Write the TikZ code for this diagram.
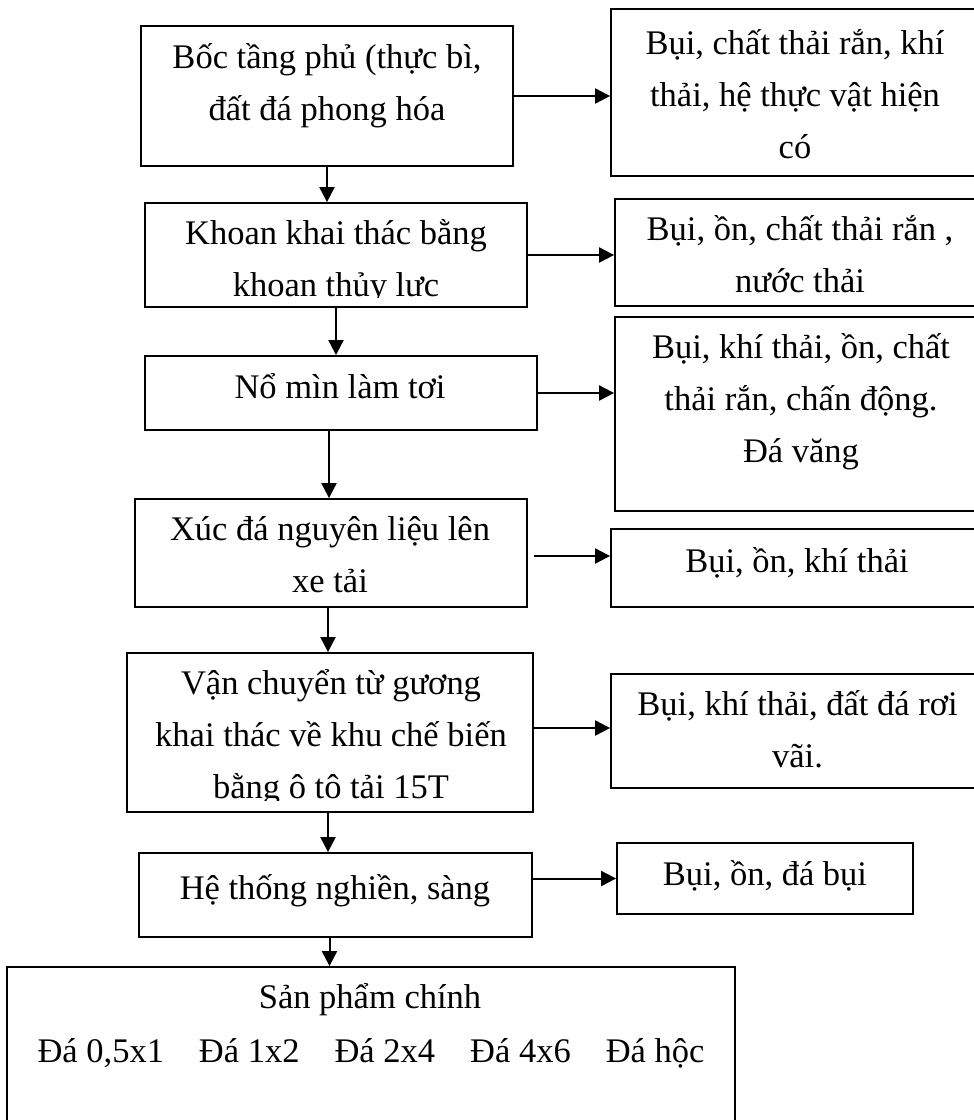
\documentclass[tikz,border=0pt]{standalone}
\usepackage{fontspec}
\setmainfont{Liberation Serif}
\usetikzlibrary{arrows.meta}
\tikzset{
  box/.style={draw=black, line width=1.8pt, fill=white, inner sep=0pt},
  txt/.style={inner sep=0pt, anchor=base, align=center, font=\fontsize{34.5}{52}\selectfont},
  arr/.style={line width=2pt, -{Triangle[length=15pt,width=15pt]}}
}
\begin{document}
\begin{tikzpicture}[x=1pt,y=-1pt]
\useasboundingbox (0,0) rectangle (974,1120);
\clip (0,0) rectangle (974,1120);
% process boxes
\node[box, minimum width=372pt, minimum height=140pt] (b1) at (327,96) {};
\node[box, minimum width=382pt, minimum height=104pt] (b2) at (336,255) {};
\node[box, minimum width=392pt, minimum height=74pt] (b3) at (341,393) {};
\node[box, minimum width=392pt, minimum height=108pt] (b4) at (331,553) {};
\node[box, minimum width=406pt, minimum height=159pt] (b5) at (330,732.5) {};
\node[box, minimum width=393pt, minimum height=84pt] (b6) at (335.5,895) {};
\node[box, minimum width=728pt, minimum height=163pt] (bp) at (371,1048.5) {};
% impact boxes
\node[box, minimum width=368pt, minimum height=167pt] (r1) at (795,92.5) {};
\node[box, minimum width=370pt, minimum height=107pt] (r2) at (800,252.5) {};
\node[box, minimum width=372pt, minimum height=194pt] (r3) at (801,414) {};
\node[box, minimum width=372pt, minimum height=78pt] (r4) at (797,568) {};
\node[box, minimum width=373pt, minimum height=114pt] (r5) at (797.5,731) {};
\node[box, minimum width=296pt, minimum height=71pt] (r6) at (765,878.5) {};
% texts (anchor base = baseline of the last line)
\node[txt] (t1) at (327,120) {Bốc tầng phủ (thực bì,\\đất đá phong hóa};
\begin{scope}
\clip (b2.north west) rectangle ([yshift=10pt]b2.south east);
\node[txt] (t2) at (336,296) {Khoan khai thác bằng\\khoan thủy lực};
\end{scope}
\node[txt] (t3) at (340,398) {Nổ mìn làm tơi};
\node[txt] (t4) at (330,592) {Xúc đá nguyên liệu lên\\xe tải};
\begin{scope}
\clip (b5.north west) rectangle ([yshift=12pt]b5.south east);
\node[txt] (t5) at (331,798) {Vận chuyển từ gương\\khai thác về khu chế biến\\bằng ô tô tải 15T};
\end{scope}
\node[txt] (t6) at (335,899) {Hệ thống nghiền, sàng};
\node[txt] (tp) at (370,1008) {Sản phẩm chính};
\node[txt] (tq) at (371,1062) {Đá 0,5x1\hspace*{35pt}Đá 1x2\hspace*{35pt}Đá 2x4\hspace*{35pt}Đá 4x6\hspace*{35pt}Đá hộc};
\node[txt] (s1) at (795,158) {Bụi, chất thải rắn, khí\\thải, hệ thực vật hiện\\có};
\node[txt] (s2) at (800,292) {Bụi, ồn, chất thải rắn ,\\nước thải};
\node[txt] (s3) at (801,462) {Bụi, khí thải, ồn, chất\\thải rắn, chấn động.\\Đá văng};
\node[txt] (s4) at (797,572) {Bụi, ồn, khí thải};
\node[txt] (s5) at (797.5,767) {Bụi, khí thải, đất đá rơi\\vãi.};
\node[txt] (s6) at (765,885) {Bụi, ồn, đá bụi};
% down arrows
\draw[arr] (b1.south) -- (b1.south |- b2.north);
\draw[arr] (b2.south) -- (b2.south |- b3.north);
\draw[arr] ([xshift=-12pt]b3.south) -- ([xshift=-12pt]b3.south |- b4.north);
\draw[arr] ([xshift=-3pt]b4.south) -- ([xshift=-3pt]b4.south |- b5.north);
\draw[arr] ([xshift=-2pt]b5.south) -- ([xshift=-2pt]b5.south |- b6.north);
\draw[arr] ([xshift=-6pt]b6.south) -- ([xshift=-6pt]b6.south |- bp.north);
% side arrows
\draw[arr] (b1.east) -- (b1.east -| r1.west);
\draw[arr] (b2.east) -- (b2.east -| r2.west);
\draw[arr] (b3.east) -- (b3.east -| r3.west);
\draw[arr] ([xshift=6pt,yshift=-3pt]b4.east) -- ([yshift=-3pt]b4.east -| r4.west);
\draw[arr] ([yshift=4.5pt]b5.east) -- ([yshift=4.5pt]b5.east -| r5.west);
\draw[arr] (r6.west -| b6.east) -- (r6.west);
\end{tikzpicture}
\end{document}
